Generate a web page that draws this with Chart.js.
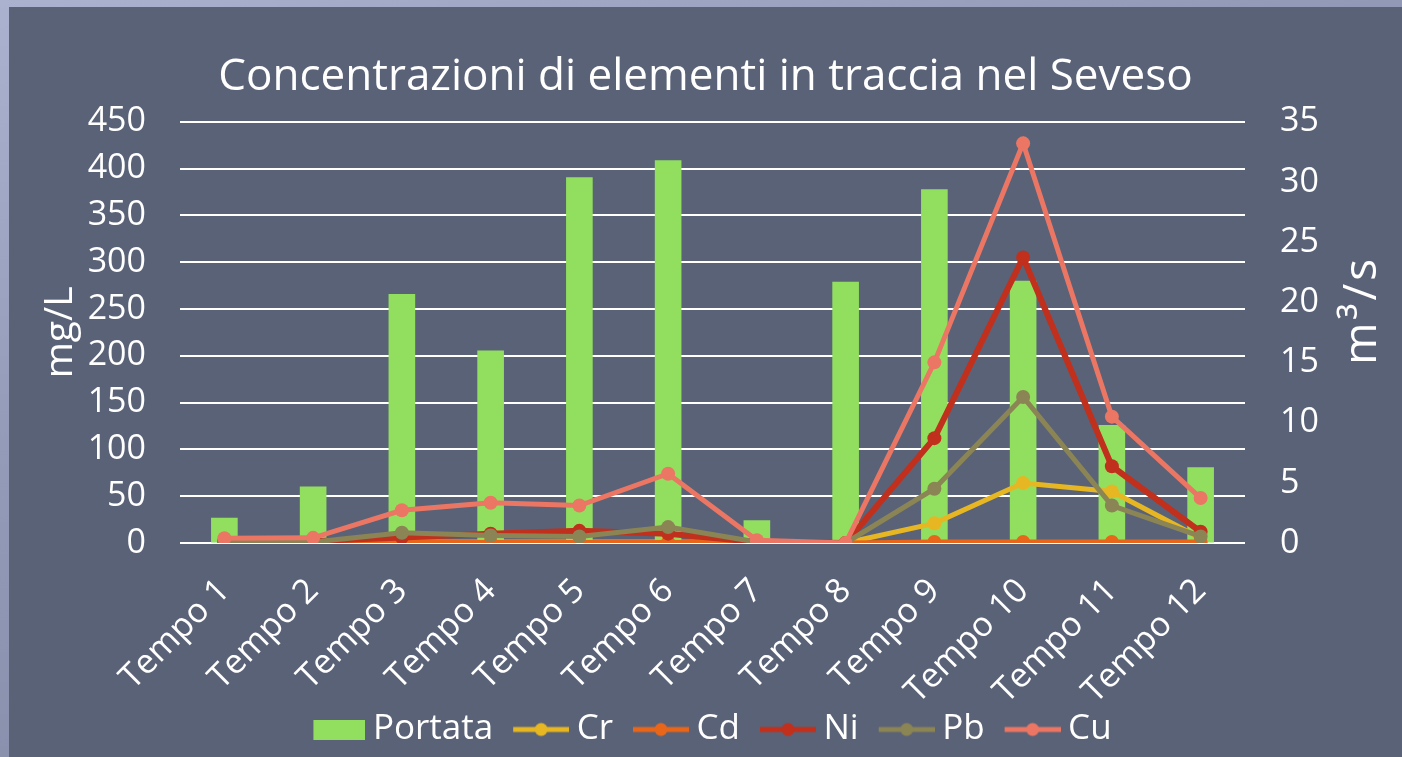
<!DOCTYPE html>
<html lang="it">
<head>
<meta charset="utf-8">
<title>Concentrazioni di elementi in traccia nel Seveso</title>
<script src="https://cdn.jsdelivr.net/npm/chart.js@4.4.1/dist/chart.umd.min.js"></script>
<style>
  html, body { margin: 0; padding: 0; }
  body {
    width: 1402px; height: 757px; overflow: hidden;
    background: linear-gradient(160deg, #aab2cf 0%, #939bb9 35%, #7a819b 100%);
  }
  #panel { position: absolute; left: 9px; top: 7px; width: 1393px; height: 750px; background: #5a6277; }
</style>
</head>
<body>
<div id="panel"><canvas id="chart"></canvas></div>
<script>
/* Concentrazioni di elementi in traccia nel Seveso — portata (m³/s) + metalli (mg/L) */

const categories = ["Tempo 1", "Tempo 2", "Tempo 3", "Tempo 4", "Tempo 5", "Tempo 6",
  "Tempo 7", "Tempo 8", "Tempo 9", "Tempo 10", "Tempo 11", "Tempo 12"];

// portata, asse destro (m³/s)
const portata = [2.1, 4.7, 20.7, 16.0, 30.4, 31.8, 1.9, 21.7, 29.4, 21.8, 9.8, 6.3];

// elementi, asse sinistro (mg/L)
const cr = [0.5, 0.5, 1, 1, 1, 1, 0.5, 0, 21, 64, 55, 5];
const cd = [0.5, 0.5, 0.5, 0.5, 0.5, 0.5, 0.5, 0, 1, 1, 1, 1];
const ni = [2, 2, 6, 10, 13, 10, 1, 0, 112, 305, 82, 12];
const pb = [1, 1, 11, 8, 7, 17, 1, 0, 58, 156, 40, 7];
const cu = [5, 5.5, 35, 43, 40, 74, 3, 0, 193, 427, 135, 48];

const leftTicks = { min: 0, max: 450, step: 50 };
const rightTicks = { min: 0, max: 35, step: 5 };

const FONT = "'Open Sans', 'Noto Sans', sans-serif";
const WHITE = "#ffffff";
const C = {
  portata: "#92df60", cr: "#e6b722", cd: "#e8661a", ni: "#c1301d", pb: "#8b8455", cu: "#ec7664",
};

Chart.defaults.font.family = FONT;
Chart.defaults.color = WHITE;

// ── simboli legenda ────────────────────────────────────────────────
// canvas 76 px: il simbolo sta a destra, così resta vicino al testo
function lineSymbol(color) {
  const c = document.createElement("canvas");
  c.width = 76; c.height = 16;
  const g = c.getContext("2d");
  g.strokeStyle = color; g.lineWidth = 5;
  g.beginPath(); g.moveTo(20, 8); g.lineTo(76, 8); g.stroke();
  g.fillStyle = color;
  g.beginPath(); g.arc(48, 8, 6.5, 0, Math.PI * 2); g.fill();
  return c;
}
function boxSymbol(color) {
  const c = document.createElement("canvas");
  c.width = 76; c.height = 20;
  const g = c.getContext("2d");
  g.fillStyle = color; g.fillRect(24, 0, 52, 20);
  return c;
}

const lineDs = (label, data, color, order, width) => ({
  type: "line", label, data, yAxisID: "y", order,
  borderColor: color, backgroundColor: color, borderWidth: width,
  pointRadius: 7, pointHoverRadius: 7, pointBackgroundColor: color, pointBorderWidth: 0,
  tension: 0, symbol: lineSymbol(color),
});

const datasets = [
  { type: "bar", label: "Portata", data: portata, yAxisID: "y1", order: 10,
    backgroundColor: C.portata, borderWidth: 0, barPercentage: 0.3, categoryPercentage: 1,
    symbol: boxSymbol(C.portata) },
  lineDs("Cr", cr, C.cr, 5, 5),
  lineDs("Cd", cd, C.cd, 4, 5),
  lineDs("Ni", ni, C.ni, 3, 6),
  lineDs("Pb", pb, C.pb, 2, 5),
  lineDs("Cu", cu, C.cu, 1, 5),
];

// titolo asse destro, letto dal basso verso l'alto come a sinistra
const rightTitle = {
  id: "rightTitle",
  afterDraw(chart) {
    const { ctx, chartArea } = chart;
    ctx.save();
    ctx.translate(1367, (chartArea.top + chartArea.bottom) / 2 - 22);
    ctx.rotate(-Math.PI / 2);
    ctx.font = "46px " + FONT;
    ctx.letterSpacing = "3px";
    ctx.fillStyle = WHITE;
    ctx.textAlign = "center";
    ctx.textBaseline = "alphabetic";
    ctx.fillText("m³/s", 0, 0);
    ctx.restore();
  },
};

new Chart(document.getElementById("chart"), {
  data: { labels: categories, datasets },
  plugins: [rightTitle],
  options: {
    responsive: true, maintainAspectRatio: false, animation: false,
    layout: { padding: { left: 0, right: 0, top: 0, bottom: 0 } },
    plugins: {
      title: {
        display: true, text: "Concentrazioni di elementi in traccia nel Seveso",
        color: WHITE, font: { size: 44, weight: "normal" }, padding: { top: 44, bottom: 18 },
      },
      legend: {
        position: "bottom",
        labels: {
          color: WHITE, font: { size: 35 }, usePointStyle: true, pointStyleWidth: 56,
          padding: 10,
          sort: (a, b) => a.datasetIndex - b.datasetIndex,
          generateLabels(chart) {
            const items = Chart.defaults.plugins.legend.labels.generateLabels(chart);
            items.forEach((it) => { it.pointStyle = chart.data.datasets[it.datasetIndex].symbol; });
            return items;
          },
        },
      },
      tooltip: { enabled: false },
    },
    scales: {
      x: {
        grid: { display: false, drawTicks: false }, border: { display: false },
        ticks: { color: WHITE, font: { size: 34 }, autoSkip: false, minRotation: 45, maxRotation: 45, padding: 28 },
        afterFit: (s) => { s.height = 159; },
      },
      y: {
        position: "left", min: leftTicks.min, max: leftTicks.max,
        grid: { color: WHITE, lineWidth: 2, drawTicks: false }, border: { display: false },
        ticks: { color: WHITE, font: { size: 34 }, stepSize: leftTicks.step, padding: 34 },
        title: { display: true, text: "mg/L", color: WHITE, font: { size: 39 }, padding: { top: 28, bottom: 0 } },
        afterFit: (s) => { s.width = 171; },
      },
      y1: {
        position: "right", min: rightTicks.min, max: rightTicks.max,
        grid: { drawOnChartArea: false, drawTicks: false }, border: { display: false },
        ticks: { color: WHITE, font: { size: 34 }, stepSize: rightTicks.step, padding: 35 },
        afterFit: (s) => { s.width = 157; },
      },
    },
  },
});
</script>
</body>
</html>
